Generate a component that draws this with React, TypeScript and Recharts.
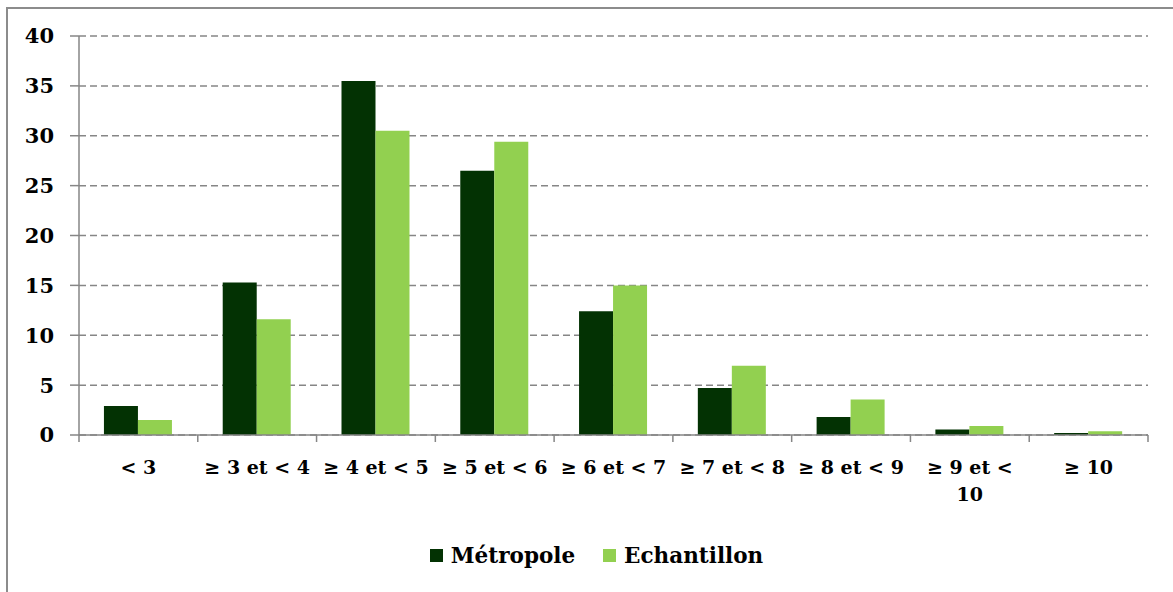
import { BarChart, Bar, XAxis, YAxis, CartesianGrid } from 'recharts';

const categories = ['< 3', '≥ 3 et < 4', '≥ 4 et < 5', '≥ 5 et < 6', '≥ 6 et < 7', '≥ 7 et < 8', '≥ 8 et < 9', '≥ 9 et < 10', '≥ 10'];
const metropole = [2.9, 15.3, 35.5, 26.5, 12.4, 4.7, 1.8, 0.55, 0.2];
const echantillon = [1.5, 11.6, 30.5, 29.4, 15.0, 6.95, 3.55, 0.9, 0.37];
const yTicks = [0, 5, 10, 15, 20, 25, 30, 35, 40];

const seriesNames = { metropole: 'Métropole', echantillon: 'Echantillon' };
const DARK = '#033203';
const LIGHT = '#92d050';
const AXIS = '#868686';
const FONT = "'DejaVu Serif', serif";
const TICK_FONT_SIZE = 19;

const data = categories.map((c, i) => ({
  cat: c,
  metropole: metropole[i],
  echantillon: echantillon[i],
}));

const W = 1173;
const H = 592;
const margin = { top: 36, right: 25, bottom: 67, left: 0 };
const yAxisWidth = 79;
const bandWidth = (W - margin.left - margin.right - yAxisWidth) / categories.length;

// greedy word wrap, measured with a canvas so it follows the real font
let measureCtx: CanvasRenderingContext2D | null = null;
function wrapLabel(label: string, maxWidth: number): string[] {
  if (!measureCtx) measureCtx = document.createElement('canvas').getContext('2d');
  const ctx = measureCtx!;
  ctx.font = `bold ${TICK_FONT_SIZE}px ${FONT}`;
  const words = label.split(' ');
  const lines: string[] = [];
  let cur = '';
  for (const w of words) {
    const next = cur ? cur + ' ' + w : w;
    if (cur && ctx.measureText(next).width > maxWidth) {
      lines.push(cur);
      cur = w;
    } else {
      cur = next;
    }
  }
  if (cur) lines.push(cur);
  return lines;
}

function CategoryTick(props: any) {
  const { x, y, payload, index } = props;
  const last = index === categories.length - 1;
  const lines = wrapLabel(String(payload.value), 110);
  return (
    <g>
      <line x1={x - bandWidth / 2} x2={x - bandWidth / 2} y1={y} y2={y + 7} stroke={AXIS} strokeWidth={1.5} />
      {last && <line x1={x + bandWidth / 2} x2={x + bandWidth / 2} y1={y} y2={y + 7} stroke={AXIS} strokeWidth={1.5} />}
      <text
        x={x}
        y={y + 39}
        textAnchor="middle"
        fontFamily={FONT}
        fontWeight="bold"
        fontSize={TICK_FONT_SIZE}
        fill="#000"
      >
        {lines.map((l, i) => (
          <tspan key={i} x={x} dy={i === 0 ? 0 : 27}>
            {l}
          </tspan>
        ))}
      </text>
    </g>
  );
}

function ChartLegend() {
  const items = [
    { name: seriesNames.metropole, color: DARK },
    { name: seriesNames.echantillon, color: LIGHT },
  ];
  return (
    <div
      style={{
        position: 'absolute',
        top: 543,
        left: 10,
        width: W,
        display: 'flex',
        justifyContent: 'center',
        gap: 28,
      }}
    >
      {items.map((it) => (
        <div key={it.name} style={{ display: 'flex', alignItems: 'center', gap: 8 }}>
          <span style={{ width: 13, height: 13, background: it.color, display: 'inline-block' }} />
          <span style={{ fontFamily: FONT, fontWeight: 'bold', fontSize: 21.5, color: '#000' }}>{it.name}</span>
        </div>
      ))}
    </div>
  );
}

export default function App() {
  return (
    <div style={{ position: 'fixed', left: 0, top: 0, width: W, height: H, background: '#fff', overflow: 'hidden' }}>
      <div
        style={{
          position: 'absolute',
          left: 6,
          top: 7,
          width: W + 50,
          height: H + 50,
          border: '2px solid #8c8c8c',
        }}
      />
      <div style={{ position: 'absolute', left: 0, top: 0 }}>
        <BarChart width={W} height={H} data={data} margin={margin} barCategoryGap="21%" barGap={0}>
          <CartesianGrid vertical={false} stroke={AXIS} strokeDasharray="7 4" strokeWidth={1.5} />
          <XAxis
            dataKey="cat"
            height={90}
            axisLine={{ stroke: AXIS, strokeWidth: 1.5 }}
            tickLine={false}
            tickSize={0}
            tickMargin={0}
            interval={0}
            tick={<CategoryTick />}
          />
          <YAxis
            width={yAxisWidth}
            domain={[0, 40]}
            ticks={yTicks}
            interval={0}
            axisLine={{ stroke: AXIS, strokeWidth: 1.5 }}
            tickLine={{ stroke: AXIS, strokeWidth: 1.5 }}
            tickSize={9}
            tickMargin={16}
            tick={{ fill: '#000', fontFamily: FONT, fontWeight: 'bold', fontSize: 21 }}
          />
          <Bar dataKey="metropole" name={seriesNames.metropole} fill={DARK} isAnimationActive={false} />
          <Bar dataKey="echantillon" name={seriesNames.echantillon} fill={LIGHT} isAnimationActive={false} />
        </BarChart>
      </div>
      <ChartLegend />
    </div>
  );
}
